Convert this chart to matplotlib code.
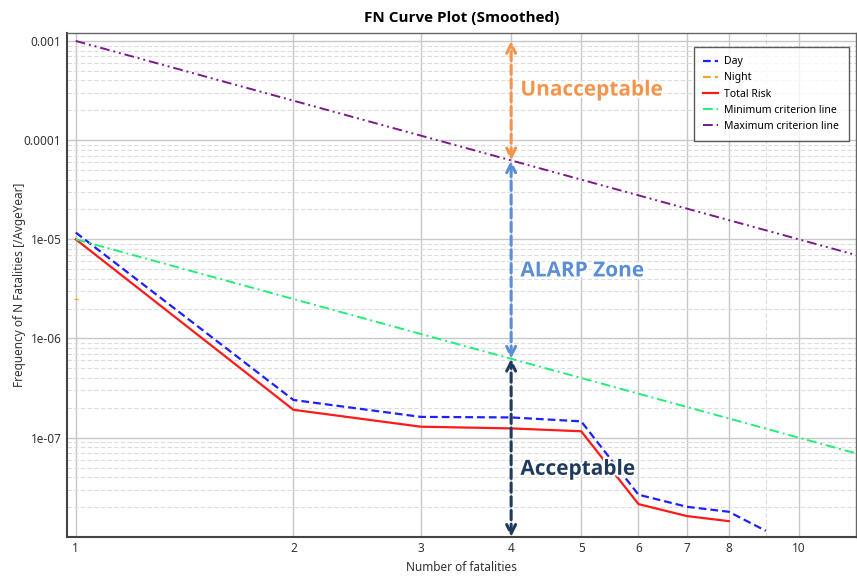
import numpy as np
import matplotlib.pyplot as plt
import matplotlib.patheffects as pe
from matplotlib.ticker import FixedLocator, FixedFormatter, NullFormatter

plt.rcParams['font.family'] = ['Noto Sans', 'DejaVu Sans']
bold_family = ['Open Sans', 'DejaVu Sans']

# FN data
n_day = [1, 2, 3, 4, 5, 6, 7, 8, 9]
f_day = [1.17e-5, 2.4e-7, 1.62e-7, 1.6e-7, 1.46e-7, 2.66e-8, 2.01e-8, 1.79e-8, 1.15e-8]
n_night = [1]
f_night = [2.5e-6]
n_total = [1, 2, 3, 4, 5, 6, 7, 8]
f_total = [1.0e-5, 1.91e-7, 1.29e-7, 1.24e-7, 1.16e-7, 2.14e-8, 1.62e-8, 1.44e-8]

# criterion lines (end points)
n_crit = [1, 12]
f_min_crit = [1e-5, 6.94e-8]
f_max_crit = [1e-3, 6.94e-6]

# zone boundaries at N = 4
n_zone = 4
f_zone_top = 1.0e-3
f_zone_max = 6.25e-5
f_zone_min = 6.25e-7
f_zone_bottom = 1.0e-8

x_ticks = [1, 2, 3, 4, 5, 6, 7, 8, 10]
y_ticks = [1e-7, 1e-6, 1e-5, 1e-4, 1e-3]
y_labels = ['1e-07', '1e-06', '1e-05', '0.0001', '0.001']

fig = plt.figure(figsize=(8.57, 5.81), dpi=100)
ax = fig.add_axes([0.078, 0.076, 0.921, 0.867])

ax.set_xscale('log')
ax.set_yscale('log')

ax.plot(n_day, f_day, color='#1f1fff', linestyle=(0, (3.5, 1.8)), lw=1.6, label='Day')
# night has a single point only, so the legend entry gets a plain dashed handle
ax.plot(n_night, f_night, color='#f5a623', linestyle='none', marker='_', markersize=3)
ax.plot([], [], color='#f5a623', linestyle=(0, (3.5, 1.8)), lw=1.6, label='Night')
ax.plot(n_total, f_total, color='#ff1a1a', lw=1.6, label='Total Risk')
ax.plot(n_crit, f_min_crit, color='#22ee77', linestyle=(0, (5, 2, 1, 2)), lw=1.4,
        label='Minimum criterion line')
ax.plot(n_crit, f_max_crit, color='#7a1a8a', linestyle=(0, (5, 2, 1, 2, 1, 2)), lw=1.4,
        label='Maximum criterion line')

# zone arrows
zones = [
    (f_zone_top, f_zone_max, '#f4944a'),
    (f_zone_max, f_zone_min, '#5b8ed6'),
    (f_zone_min, f_zone_bottom, '#1f3a5f'),
]
for top, bottom, col in zones:
    ax.annotate('', xy=(n_zone, top), xytext=(n_zone, bottom),
                arrowprops=dict(arrowstyle='<->', color=col, lw=2.2,
                                linestyle=(0, (3, 1.5)), mutation_scale=16,
                                shrinkA=0, shrinkB=0))

glow = [pe.withStroke(linewidth=3, foreground='white')]
ax.text(4.12, 3.2e-4, 'Unacceptable', color='#f4944a', fontsize=15, fontweight='bold',
        family=bold_family, va='center', ha='left', path_effects=glow)
ax.text(4.12, 4.8e-6, 'ALARP Zone', color='#5b8ed6', fontsize=15, fontweight='bold',
        family=bold_family, va='center', ha='left', path_effects=glow)
ax.text(4.12, 4.8e-8, 'Acceptable', color='#1f3a5f', fontsize=15, fontweight='bold',
        family=bold_family, va='center', ha='left', path_effects=glow)

ax.set_xlim(0.972, 12.0)
ax.set_ylim(1.0e-8, 1.2e-3)

ax.xaxis.set_major_locator(FixedLocator(x_ticks))
ax.xaxis.set_major_formatter(FixedFormatter([str(v) for v in x_ticks]))
ax.xaxis.set_minor_formatter(NullFormatter())
ax.yaxis.set_major_locator(FixedLocator(y_ticks))
ax.yaxis.set_major_formatter(FixedFormatter(y_labels))
ax.yaxis.set_minor_formatter(NullFormatter())

ax.grid(True, which='major', color='#c8c8c8', lw=1.0)
ax.grid(True, which='minor', color='#dcdcdc', lw=0.8, linestyle=(0, (4, 2)))
ax.set_axisbelow(True)
ax.tick_params(which='both', length=0, labelsize=8.5, colors='#333333', pad=4)

for side in ['left', 'bottom']:
    ax.spines[side].set_color('#444444')
    ax.spines[side].set_linewidth(1.5)
for side in ['top', 'right']:
    ax.spines[side].set_color('#666666')
    ax.spines[side].set_linewidth(1.0)

ax.set_xlabel('Number of fatalities', fontsize=8.5, color='#333333', labelpad=4)
ax.set_ylabel('Frequency of N Fatalities [/AvgeYear]', fontsize=8.5, color='#333333')
ax.yaxis.set_label_coords(-0.052, 0.5)
ax.set_title('FN Curve Plot (Smoothed)', fontsize=11, fontweight='bold',
             family=bold_family, pad=8)

leg = ax.legend(loc='upper right', fontsize=7.5, frameon=True, fancybox=False,
                edgecolor='#333333', borderpad=0.9, handlelength=1.4,
                handletextpad=0.6, labelspacing=0.5, bbox_to_anchor=(0.997, 0.983))
leg.get_frame().set_linewidth(1.0)

fig.savefig('out.png', dpi=100)
